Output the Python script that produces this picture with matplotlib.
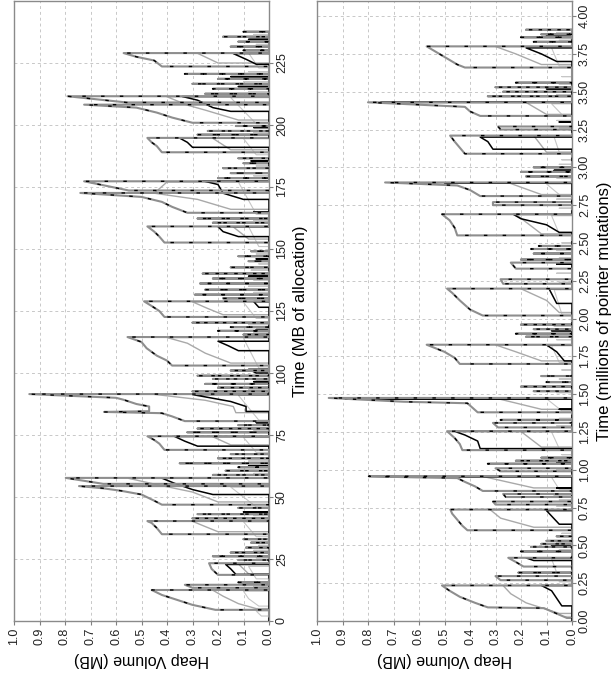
import numpy as np
import matplotlib
matplotlib.use('Agg')
import matplotlib.pyplot as plt

plt.rcParams['font.family'] = ['Liberation Sans', 'DejaVu Sans']

# Each run is a list of (time, heap MB) points. The heap jumps up from zero
# at the first time and is collected back to zero after the last one.

# ---- panel 1: time in MB of allocation
alloc_main = [
    [(4.5, 0.21), (6.5, 0.30), (8.5, 0.36), (10.5, 0.42), (12.5, 0.46)],
    [(13.4, 0.30), (14.6, 0.33)], [(15.6, 0.12)],
    [(18.6, 0.20), (21.0, 0.225), (23.3, 0.235)],
    [(24.6, 0.12)], [(26.1, 0.22)], [(27.6, 0.15)], [(29.6, 0.09)],
    [(31.6, 0.07)], [(33.0, 0.10)],
    [(35.0, 0.42), (37.5, 0.44), (39.5, 0.46), (40.3, 0.477)],
    [(41.4, 0.30)], [(43.1, 0.28)], [(45.6, 0.12)],
    [(46.9, 0.42), (48.5, 0.45), (50.0, 0.48), (51.0, 0.50), (52.5, 0.58),
     (53.5, 0.65), (54.4, 0.745)],
    [(55.3, 0.65), (57.7, 0.797)],
    [(58.9, 0.22)], [(60.6, 0.17)], [(62.0, 0.12)], [(63.6, 0.35)],
    [(65.6, 0.20)], [(67.3, 0.15)],
    [(69.0, 0.41), (71.5, 0.43), (73.0, 0.45), (74.5, 0.477)],
    [(76.1, 0.32)], [(77.6, 0.28)], [(79.0, 0.12)],
    [(80.6, 0.33), (82.5, 0.38), (83.8, 0.42), (84.3, 0.647), (84.6, 0.47),
     (86.5, 0.47), (87.5, 0.52), (89.2, 0.57), (90.0, 0.60), (91.5, 0.94)],
    [(92.6, 0.30)], [(94.1, 0.20)], [(95.6, 0.25)], [(97.6, 0.22)],
    [(98.9, 0.28)], [(101.0, 0.15)],
    [(103.0, 0.38), (105.0, 0.40), (107.0, 0.44), (110.0, 0.48),
     (112.5, 0.50), (114.5, 0.555)],
    [(115.5, 0.10)], [(117.0, 0.20)], [(118.5, 0.15)], [(120.3, 0.30)],
    [(122.6, 0.41), (125.0, 0.43), (127.0, 0.46), (128.9, 0.49)],
    [(130.1, 0.18)], [(131.6, 0.29)], [(133.6, 0.25)], [(136.1, 0.27)],
    [(138.1, 0.22)], [(140.1, 0.26)], [(142.6, 0.15)], [(145.1, 0.08)],
    [(147.1, 0.12)], [(149.1, 0.07)],
    [(152.6, 0.41), (155.0, 0.43), (157.0, 0.45), (159.1, 0.477)],
    [(160.6, 0.22)], [(162.3, 0.28)],
    [(164.6, 0.32), (167.0, 0.38), (169.0, 0.42), (171.0, 0.50), (172.6, 0.74)],
    [(173.6, 0.55), (177.3, 0.725)],
    [(178.6, 0.20)], [(180.6, 0.15)], [(182.6, 0.18)], [(184.6, 0.10)],
    [(186.6, 0.12)],
    [(189.0, 0.42), (191.5, 0.44), (193.0, 0.46), (194.8, 0.477)],
    [(196.1, 0.28)], [(197.6, 0.24)], [(199.6, 0.13)],
    [(200.9, 0.30), (203.0, 0.38), (205.0, 0.44), (207.0, 0.52), (208.2, 0.725)],
    [(209.1, 0.56), (211.6, 0.79)],
    [(212.6, 0.25)], [(214.6, 0.22)], [(216.6, 0.30)], [(218.6, 0.20)],
    [(220.6, 0.33)],
    [(223.6, 0.42), (226.0, 0.45), (227.5, 0.52), (229.0, 0.57)],
    [(230.1, 0.10)], [(231.6, 0.15)], [(233.6, 0.12)], [(235.6, 0.18)],
    [(237.6, 0.10)],
]

alloc_black = [
    [(18.8, 0.13), (21.0, 0.15), (22.8, 0.17)], [(44.0, 0.10)],
    [(51.0, 0.22), (53.0, 0.30), (55.5, 0.37), (57.6, 0.42)], [(62.5, 0.08)],
    [(70.5, 0.28), (72.5, 0.33), (74.4, 0.37)], [(80.0, 0.05)],
    [(84.5, 0.09), (86.5, 0.09), (88.5, 0.15), (91.3, 0.30)], [(96.5, 0.06)],
    [(100.0, 0.05), (101.5, 0.08)],
    [(109.0, 0.12), (111.0, 0.16), (112.8, 0.20)], [(117.5, 0.05)],
    [(126.5, 0.04), (128.8, 0.06)], [(139.0, 0.08)], [(146.0, 0.05)],
    [(155.0, 0.12), (157.0, 0.18), (159.0, 0.20)], [(165.0, 0.06)],
    [(170.0, 0.10), (172.5, 0.18), (176.0, 0.20), (177.5, 0.26)],
    [(185.5, 0.07)],
    [(191.0, 0.30), (193.0, 0.32), (194.7, 0.35)], [(199.0, 0.06)],
    [(205.5, 0.15), (207.0, 0.22), (210.0, 0.28), (211.5, 0.34)],
    [(215.5, 0.12)], [(219.5, 0.15)],
    [(224.5, 0.05), (226.5, 0.09), (228.8, 0.14)], [(234.5, 0.08)],
]

alloc_mid = [
    [(5.0, 0.05), (7.0, 0.12), (10.0, 0.18), (12.4, 0.22)],
    [(19.0, 0.08), (23.0, 0.12)],
    [(36.0, 0.20), (38.5, 0.26), (40.2, 0.30)],
    [(48.0, 0.20), (52.0, 0.30), (55.0, 0.44), (57.5, 0.55)],
    [(71.0, 0.15), (74.3, 0.22)],
    [(84.0, 0.13), (86.5, 0.14), (89.0, 0.25), (91.4, 0.45)],
    [(104.0, 0.15), (108.0, 0.25), (112.0, 0.32), (114.3, 0.40)],
    [(123.5, 0.18), (126.0, 0.24), (128.7, 0.30)],
    [(154.0, 0.08), (158.9, 0.14)],
    [(166.0, 0.15), (170.0, 0.28), (172.5, 0.45), (177.0, 0.40)],
    [(190.0, 0.15), (194.6, 0.22)],
    [(202.0, 0.12), (206.0, 0.25), (208.0, 0.32), (211.4, 0.40)],
    [(225.0, 0.20), (228.9, 0.28)],
]

alloc_light = [
    [(2.0, 0.03), (4.0, 0.05)], [(6.0, 0.04), (9.0, 0.08), (12.0, 0.10)],
    [(14.0, 0.06)], [(17.0, 0.05), (22.0, 0.08)], [(25.5, 0.05)],
    [(28.5, 0.06)], [(30.5, 0.04)], [(34.0, 0.05), (40.0, 0.10)],
    [(42.5, 0.06)], [(46.0, 0.05), (54.0, 0.15)], [(59.5, 0.06)],
    [(64.5, 0.08)], [(68.0, 0.05), (74.0, 0.10)], [(77.0, 0.06)],
    [(81.0, 0.04), (91.0, 0.12)], [(93.5, 0.08)], [(97.0, 0.05)],
    [(102.0, 0.04), (114.0, 0.10)], [(116.5, 0.06)], [(119.5, 0.08)],
    [(122.0, 0.05), (128.5, 0.10)], [(132.5, 0.06)], [(135.0, 0.08)],
    [(137.5, 0.06)], [(141.5, 0.07)], [(144.0, 0.04)], [(148.0, 0.05)],
    [(151.0, 0.04), (159.0, 0.08)], [(161.5, 0.06)],
    [(164.0, 0.05), (177.0, 0.12)], [(179.5, 0.06)], [(183.5, 0.05)],
    [(188.0, 0.05), (194.5, 0.10)], [(197.0, 0.06)],
    [(200.5, 0.05), (211.0, 0.15)], [(213.5, 0.08)], [(217.5, 0.10)],
    [(221.5, 0.08)], [(223.0, 0.04), (229.0, 0.08)], [(232.5, 0.05)],
    [(236.5, 0.06)],
]

# ---- panel 2: time in millions of pointer mutations
mut_main = [
    [(0.02, 0.02), (0.085, 0.11), (0.09, 0.33), (0.12, 0.38), (0.16, 0.44),
     (0.20, 0.48), (0.235, 0.51)],
    [(0.27, 0.28), (0.297, 0.30)], [(0.32, 0.21)],
    [(0.36, 0.19), (0.39, 0.22), (0.418, 0.25)],
    [(0.46, 0.20)], [(0.49, 0.16)], [(0.51, 0.12)], [(0.53, 0.10)],
    [(0.56, 0.06)],
    [(0.60, 0.41), (0.63, 0.43), (0.67, 0.45), (0.71, 0.47), (0.737, 0.477)],
    [(0.77, 0.30), (0.79, 0.31)], [(0.82, 0.26), (0.84, 0.27)],
    [(0.86, 0.35), (0.89, 0.38), (0.92, 0.42), (0.945, 0.45), (0.95, 0.62),
     (0.957, 0.797)],
    [(0.99, 0.28), (1.01, 0.30)], [(1.04, 0.33)], [(1.06, 0.22)],
    [(1.08, 0.12)],
    [(1.13, 0.43), (1.17, 0.44), (1.21, 0.46), (1.255, 0.49)],
    [(1.28, 0.29), (1.31, 0.31)], [(1.33, 0.28)],
    [(1.38, 0.37), (1.41, 0.39), (1.44, 0.41), (1.45, 0.66), (1.475, 0.954)],
    [(1.52, 0.15)], [(1.55, 0.20)], [(1.58, 0.10)], [(1.62, 0.12)],
    [(1.70, 0.44), (1.74, 0.46), (1.78, 0.50), (1.827, 0.57)],
    [(1.88, 0.18)], [(1.90, 0.22)], [(1.93, 0.15)], [(1.96, 0.20)],
    [(2.02, 0.35), (2.06, 0.40), (2.12, 0.44), (2.17, 0.47), (2.198, 0.49)],
    [(2.23, 0.27), (2.26, 0.28)], [(2.33, 0.22), (2.37, 0.24)],
    [(2.39, 0.20)], [(2.43, 0.15)], [(2.46, 0.16)], [(2.48, 0.13)],
    [(2.55, 0.45), (2.60, 0.46), (2.65, 0.48), (2.69, 0.51)],
    [(2.75, 0.31), (2.77, 0.31)],
    [(2.81, 0.36), (2.85, 0.40), (2.88, 0.45), (2.90, 0.733)],
    [(2.94, 0.18)], [(2.97, 0.20)], [(3.00, 0.15)],
    [(3.09, 0.42), (3.13, 0.44), (3.17, 0.46), (3.21, 0.478)],
    [(3.25, 0.28), (3.27, 0.29)],
    [(3.34, 0.36), (3.37, 0.40), (3.40, 0.42), (3.43, 0.80)],
    [(3.47, 0.33)], [(3.50, 0.27)], [(3.53, 0.30)], [(3.56, 0.22)],
    [(3.66, 0.42), (3.68, 0.45), (3.73, 0.50), (3.80, 0.57)],
    [(3.83, 0.15)], [(3.86, 0.20)], [(3.88, 0.12)], [(3.91, 0.18)],
]

mut_black = [
    [(0.10, 0.04), (0.20, 0.08), (0.235, 0.12)],
    [(0.40, 0.15), (0.417, 0.18)], [(0.50, 0.08)],
    [(0.64, 0.05), (0.73, 0.10)], [(0.88, 0.06)], [(0.955, 0.74)],
    [(1.05, 0.06)],
    [(1.14, 0.36), (1.19, 0.37), (1.23, 0.42), (1.254, 0.46)],
    [(1.40, 0.05)], [(1.47, 0.89)], [(1.55, 0.06)],
    [(1.72, 0.03), (1.78, 0.06), (1.826, 0.10)], [(1.92, 0.08)],
    [(2.10, 0.06), (2.197, 0.09)], [(2.36, 0.06)],
    [(2.57, 0.05), (2.62, 0.10), (2.66, 0.20), (2.689, 0.23)],
    [(2.898, 0.50)], [(2.98, 0.07)],
    [(3.12, 0.31), (3.17, 0.33), (3.20, 0.36)], [(3.30, 0.05)],
    [(3.43, 0.75)], [(3.52, 0.10)],
    [(3.70, 0.06), (3.75, 0.12), (3.79, 0.18)], [(3.87, 0.10)],
]

mut_mid = [
    [(0.05, 0.05), (0.12, 0.18), (0.18, 0.24), (0.234, 0.27)],
    [(0.62, 0.15), (0.68, 0.28), (0.735, 0.32)],
    [(0.88, 0.15), (0.956, 0.35)],
    [(1.15, 0.12), (1.253, 0.20)],
    [(1.40, 0.12), (1.474, 0.30)],
    [(1.72, 0.12), (1.78, 0.22), (1.826, 0.30)],
    [(2.04, 0.05), (2.12, 0.10), (2.197, 0.20)],
    [(2.56, 0.12), (2.689, 0.22)],
    [(2.82, 0.12), (2.899, 0.25)],
    [(3.10, 0.10), (3.209, 0.15)],
    [(3.35, 0.10), (3.429, 0.18)],
    [(3.68, 0.12), (3.75, 0.22), (3.799, 0.30)],
]

mut_light = [
    [(0.03, 0.03)], [(0.26, 0.05)], [(0.32, 0.06), (0.41, 0.08)],
    [(0.47, 0.05)], [(0.52, 0.06)], [(0.58, 0.04)], [(0.76, 0.06)],
    [(0.80, 0.05)], [(0.83, 0.07)], [(0.87, 0.05), (0.95, 0.08)],
    [(1.00, 0.06)], [(1.07, 0.05)], [(1.10, 0.04)],
    [(1.14, 0.05), (1.25, 0.08)], [(1.29, 0.06)], [(1.34, 0.05)],
    [(1.39, 0.04), (1.47, 0.10)], [(1.51, 0.06)], [(1.60, 0.05)],
    [(1.66, 0.04)], [(1.71, 0.05), (1.82, 0.08)], [(1.86, 0.06)],
    [(1.95, 0.07)], [(2.03, 0.04), (2.19, 0.07)], [(2.24, 0.05)],
    [(2.30, 0.06)], [(2.40, 0.05)], [(2.45, 0.06)], [(2.50, 0.04)],
    [(2.56, 0.05), (2.68, 0.08)], [(2.73, 0.05)], [(2.79, 0.06)],
    [(2.82, 0.05), (2.89, 0.10)], [(2.93, 0.06)], [(3.02, 0.05)],
    [(3.05, 0.04)], [(3.10, 0.05), (3.20, 0.07)], [(3.26, 0.05)],
    [(3.31, 0.06)], [(3.35, 0.04), (3.42, 0.08)], [(3.48, 0.06)],
    [(3.55, 0.05)], [(3.60, 0.04)], [(3.67, 0.05), (3.79, 0.08)],
    [(3.84, 0.05)], [(3.89, 0.06)],
]

heap_ticks = [0.0, 0.1, 0.2, 0.3, 0.4, 0.5, 0.6, 0.7, 0.8, 0.9, 1.0]
alloc_ticks = [0, 25, 50, 75, 100, 125, 150, 175, 200, 225]
mut_ticks = [0.0, 0.25, 0.5, 0.75, 1.0, 1.25, 1.5, 1.75, 2.0, 2.25, 2.5,
             2.75, 3.0, 3.25, 3.5, 3.75, 4.0]


def trace(runs):
    """Turn a list of runs into one sawtooth polyline (time, heap)."""
    t, v = [0.0], [0.0]
    for run in runs:
        t.append(run[0][0])
        v.append(0.0)
        for a, b in run:
            t.append(a)
            v.append(b)
        t.append(run[-1][0])
        v.append(0.0)
    return np.array(t), np.array(v)


def draw_panel(ax, main, black, mid, light, tmax, tticks, tfmt, tlabel):
    t, v = trace(light)
    ax.plot(v, t, color='#c6c6c6', lw=0.8, zorder=2)
    t, v = trace(mid)
    ax.plot(v, t, color='#a9a9a9', lw=1.0, zorder=3)
    t, v = trace(black)
    ax.plot(v, t, color='black', lw=1.1, zorder=4)
    t, v = trace(main)
    ax.plot(v, t, color='#8e8e8e', lw=1.5, zorder=5)
    # the sampled points show as small dark marks along the outer trace
    ax.plot(v, t, color='black', lw=1.0, ls=(0, (2.5, 11)), zorder=6)

    ax.set_xlim(1.0, 0.0)
    ax.set_ylim(0, tmax)
    ax.set_xticks(heap_ticks)
    ax.set_xticklabels([f'{x:.1f}' for x in heap_ticks], rotation=90,
                       ha='center', va='top')
    ax.yaxis.tick_right()
    ax.yaxis.set_label_position('right')
    ax.set_yticks(tticks)
    ax.set_yticklabels([tfmt.format(x) for x in tticks], rotation=90,
                       ha='left', va='center')
    ax.tick_params(length=3, width=0.8, color='#808080', pad=2,
                   labelsize=9, labelcolor='#222222')
    for s in ax.spines.values():
        s.set_color('#8a8a8a')
        s.set_linewidth(1.0)
    ax.grid(True, color='#c8c8c8', ls=(0, (3, 3)), lw=0.7, zorder=0)
    ax.set_axisbelow(True)
    ax.set_xlabel('Heap Volume (MB)', rotation=180, fontsize=11.5,
                  labelpad=5)
    ax.set_ylabel(tlabel, rotation=90, fontsize=12, labelpad=4)


fig = plt.figure(figsize=(6.14, 6.77), dpi=100)
ax1 = fig.add_axes([14 / 614, 56 / 677, 255 / 614, 620 / 677])
ax2 = fig.add_axes([317 / 614, 56 / 677, 255 / 614, 620 / 677])

draw_panel(ax1, alloc_main, alloc_black, alloc_mid, alloc_light, 250,
           alloc_ticks, '{:d}', 'Time (MB of allocation)')
draw_panel(ax2, mut_main, mut_black, mut_mid, mut_light, 4.1,
           mut_ticks, '{:.2f}', 'Time (millions of pointer mutations)')

fig.savefig('out.png', dpi=100)
